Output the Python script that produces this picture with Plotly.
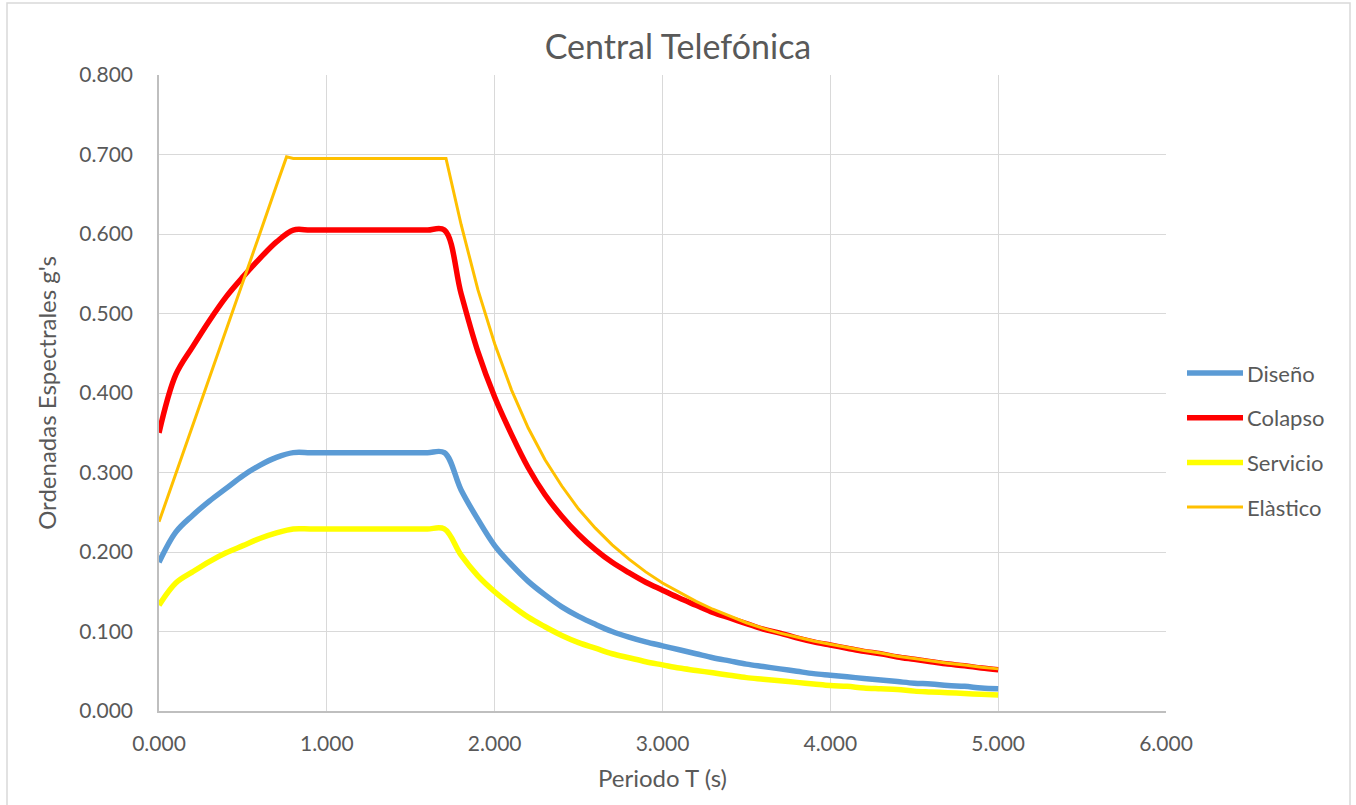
import plotly.graph_objects as go

# Periodos (s) para los espectros de diseño, colapso y servicio
periodo = [round(0.1 * i, 1) for i in range(51)]

colapso = [
    0.350, 0.423, 0.458, 0.491, 0.521, 0.546, 0.569, 0.590, 0.605, 0.605,
    0.605, 0.605, 0.605, 0.605, 0.605, 0.605, 0.605, 0.605, 0.525, 0.452,
    0.395, 0.348, 0.306, 0.272, 0.245, 0.222, 0.203, 0.187, 0.174, 0.162,
    0.152, 0.142, 0.133, 0.124, 0.117, 0.110, 0.103, 0.098, 0.092, 0.087,
    0.083, 0.079, 0.075, 0.072, 0.068, 0.065, 0.062, 0.059, 0.057, 0.054,
    0.052,
]

diseno = [
    0.187, 0.225, 0.246, 0.264, 0.280, 0.296, 0.309, 0.319, 0.325, 0.325,
    0.325, 0.325, 0.325, 0.325, 0.325, 0.325, 0.325, 0.325, 0.278, 0.241,
    0.208, 0.184, 0.163, 0.146, 0.131, 0.119, 0.109, 0.100, 0.093, 0.087,
    0.082, 0.077, 0.072, 0.067, 0.063, 0.059, 0.056, 0.053, 0.050, 0.047,
    0.045, 0.043, 0.041, 0.039, 0.037, 0.035, 0.034, 0.032, 0.031, 0.029,
    0.028,
]

servicio = [
    0.133, 0.161, 0.175, 0.188, 0.199, 0.208, 0.217, 0.224, 0.229, 0.229,
    0.229, 0.229, 0.229, 0.229, 0.229, 0.229, 0.229, 0.229, 0.196, 0.170,
    0.150, 0.133, 0.118, 0.106, 0.095, 0.086, 0.079, 0.072, 0.067, 0.062,
    0.058, 0.054, 0.051, 0.048, 0.045, 0.042, 0.040, 0.038, 0.036, 0.034,
    0.032, 0.031, 0.029, 0.028, 0.027, 0.025, 0.024, 0.023, 0.022, 0.021,
    0.020,
]

# Espectro elástico: rampa lineal, meseta y rama descendente
periodo_elastico = [
    0.0, 0.1, 0.2, 0.3, 0.4, 0.5, 0.6, 0.7, 0.76, 0.8, 0.9, 1.0, 1.1, 1.2,
    1.3, 1.4, 1.5, 1.6, 1.71, 1.8, 1.9, 2.0, 2.1, 2.2, 2.3, 2.4, 2.5, 2.6,
    2.7, 2.8, 2.9, 3.0, 3.1, 3.2, 3.3, 3.4, 3.5, 3.6, 3.7, 3.8, 3.9, 4.0,
    4.1, 4.2, 4.3, 4.4, 4.5, 4.6, 4.7, 4.8, 4.9, 5.0,
]
elastico = [
    0.238, 0.298, 0.358, 0.419, 0.479, 0.540, 0.600, 0.661, 0.697, 0.695,
    0.695, 0.695, 0.695, 0.695, 0.695, 0.695, 0.695, 0.695, 0.695, 0.612,
    0.530, 0.462, 0.404, 0.356, 0.316, 0.283, 0.254, 0.230, 0.209, 0.191,
    0.175, 0.161, 0.149, 0.138, 0.128, 0.119, 0.111, 0.104, 0.098, 0.093,
    0.088, 0.084, 0.080, 0.076, 0.073, 0.069, 0.066, 0.063, 0.060, 0.058,
    0.055, 0.053,
]

x_ticks = [0, 1, 2, 3, 4, 5, 6]
y_ticks = [0.0, 0.1, 0.2, 0.3, 0.4, 0.5, 0.6, 0.7, 0.8]

FONT = "Lato"
GRAY = "#595959"

series = [
    ("Diseño", periodo, diseno, "#5B9BD5", 5.5, "spline"),
    ("Colapso", periodo, colapso, "#FF0000", 5.5, "spline"),
    ("Servicio", periodo, servicio, "#FFFF00", 5.5, "spline"),
    ("Elàstico", periodo_elastico, elastico, "#FFC000", 3.0, "linear"),
]

fig = go.Figure()
for name, xs, ys, color, width, shape in series:
    fig.add_trace(go.Scatter(
        x=xs, y=ys, name=name, mode="lines",
        line=dict(color=color, width=width, shape=shape),
        showlegend=False,
    ))

# Leyenda a la derecha del área de trazado
legend_y0 = (711 - 373) / 636
legend_step = 44.7 / 636
x0 = (1187 - 159) / 1007
x1 = (1243 - 159) / 1007
xt = (1245 - 159) / 1007
for i, (name, _, _, color, width, _) in enumerate(series):
    yy = legend_y0 - i * legend_step
    fig.add_shape(type="line", xref="paper", yref="paper",
                  x0=x0, x1=x1, y0=yy, y1=yy,
                  line=dict(color=color, width=width))
    fig.add_annotation(xref="paper", yref="paper", x=xt, y=yy,
                       text=name, showarrow=False, xanchor="left",
                       yanchor="middle",
                       font=dict(family=FONT, size=22, color=GRAY))

# Borde exterior del gráfico
fig.add_shape(type="rect", xref="paper", yref="paper",
              x0=(7 - 159) / 1007, x1=(1350 - 159) / 1007,
              y0=(711 - 830) / 636, y1=(711 - 3) / 636,
              line=dict(color="#d9d9d9", width=1.5), layer="below")

fig.update_layout(
    width=1356, height=805,
    margin=dict(l=159, r=190, t=75, b=94),
    paper_bgcolor="white", plot_bgcolor="white",
    font=dict(family=FONT, color=GRAY, size=21),
    title=dict(text="Central Telefónica", x=0.5, xanchor="center",
               y=1 - 47 / 805, yanchor="middle",
               font=dict(family=FONT, size=34, color=GRAY)),
)
fig.update_xaxes(
    range=[0, 6], tickvals=x_ticks, tickformat=".3f",
    showgrid=True, gridcolor="#d9d9d9", gridwidth=1.3,
    showline=True, linecolor="#bfbfbf", linewidth=1.5,
    zeroline=False, ticks="", ticklabelstandoff=13,
    tickfont=dict(family=FONT, size=21, color=GRAY),
    title=dict(text="Periodo T (s)", standoff=16,
               font=dict(family=FONT, size=24, color=GRAY)),
)
fig.update_yaxes(
    range=[0, 0.8], tickvals=y_ticks, tickformat=".3f",
    showgrid=True, gridcolor="#d9d9d9", gridwidth=1.3,
    showline=True, linecolor="#bfbfbf", linewidth=1.5,
    zeroline=False, ticks="", ticklabelstandoff=20,
    tickfont=dict(family=FONT, size=21, color=GRAY),
    title=dict(text="Ordenadas Espectrales g's", standoff=16,
               font=dict(family=FONT, size=24, color=GRAY)),
)

fig.write_html("out.html")
